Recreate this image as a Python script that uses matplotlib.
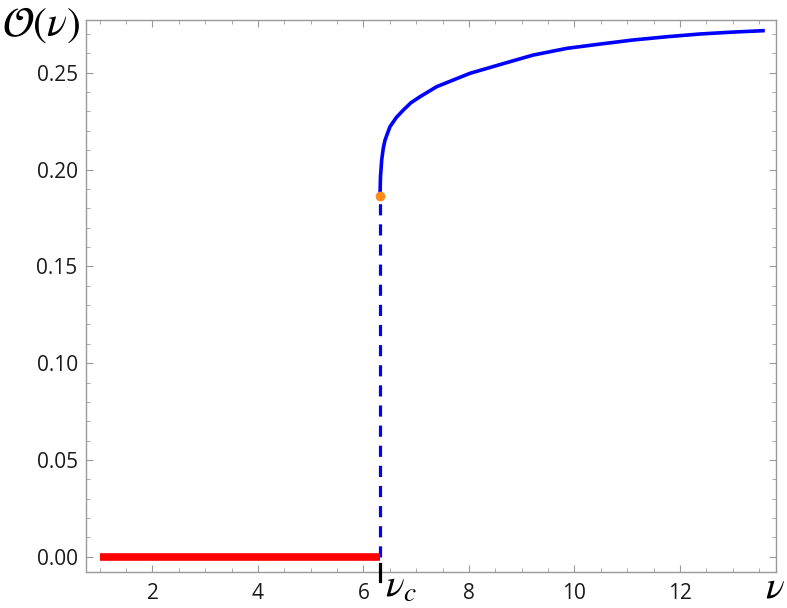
import matplotlib
matplotlib.use("Agg")
import matplotlib.pyplot as plt
from matplotlib.ticker import MultipleLocator

plt.rcParams['mathtext.fontset'] = 'stix'
plt.rcParams['font.family'] = ['Open Sans', 'DejaVu Sans']

# Data
nu_c = 6.313
o_c = 0.1863
red_nu = [1.0, nu_c]
red_o = [0.0, 0.0]
blue_nu = [6.313, 6.322, 6.345, 6.375, 6.408, 6.502, 6.62, 6.754, 6.90, 7.071,
           7.388, 8.019, 8.777, 9.213, 9.858, 10.483, 11.109, 11.754,
           12.379, 13.005, 13.574]
blue_o = [0.1863, 0.1960, 0.2049, 0.2110, 0.2152, 0.2221, 0.2268, 0.2307,
          0.2345, 0.2376, 0.2428, 0.2497, 0.2557, 0.2591, 0.2626, 0.2648,
          0.2669, 0.2686, 0.2700, 0.2710, 0.2717]
x_ticks = [2, 4, 6, 8, 10, 12]
y_ticks = [0.00, 0.05, 0.10, 0.15, 0.20, 0.25]

W, H = 787, 608
fig = plt.figure(figsize=(W / 100, H / 100), dpi=100)
ax = fig.add_axes([0.1093, 0.0597, 0.8767, 0.9073])

ax.plot(red_nu, red_o, color='#ff0000', lw=5.5, solid_capstyle='butt', zorder=3)
ax.plot([nu_c, nu_c], [0, o_c], color='#0000ff', lw=2.3, dashes=(3.5, 2.8), zorder=2)
ax.plot(blue_nu, blue_o, color='#0000ff', lw=2.6, zorder=3)
ax.plot([nu_c], [o_c], 'o', color='#ff8c1a', ms=6, zorder=4)
# black mark where nu_c meets the axis
ax.plot([nu_c, nu_c], [-0.0035, -0.0125], color='black', lw=2.3, clip_on=False, zorder=5)

ax.set_xlim(0.74, 13.82)
ax.set_ylim(-0.0077, 0.2772)
ax.set_xticks(x_ticks)
ax.set_yticks(y_ticks)
ax.set_yticklabels([f"{v:.2f}" for v in y_ticks])
ax.xaxis.set_minor_locator(MultipleLocator(0.5))
ax.yaxis.set_minor_locator(MultipleLocator(0.01))
ax.tick_params(which='both', direction='in', top=True, right=True, color='#999999')
ax.tick_params(which='major', length=5, width=0.8, labelsize=15, labelcolor='#1a1a1a')
ax.tick_params(which='minor', length=3, width=0.6)
ax.tick_params(axis='x', pad=8)
ax.tick_params(axis='y', pad=6)
for s in ax.spines.values():
    s.set_color('#999999')
    s.set_linewidth(1.0)

fig.text(385 / W, 1 - 597 / H, r'$\nu_c$', fontsize=28, ha='left', va='baseline')
fig.text(785 / W, 1 - 597 / H, r'$\nu$', fontsize=28, ha='right', va='baseline')
fig.text(2 / W, 1 - 36 / H, r'$\mathcal{O}(\nu)$', fontsize=30, ha='left', va='baseline')

fig.savefig('out.png', dpi=100)
